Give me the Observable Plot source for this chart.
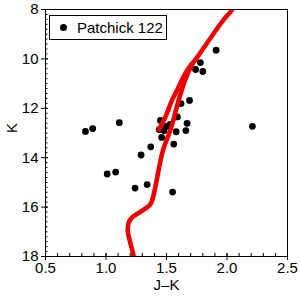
<!DOCTYPE html>
<html><head><meta charset="utf-8">
<script src="https://cdn.jsdelivr.net/npm/d3@7"></script>
<script src="https://cdn.jsdelivr.net/npm/@observablehq/plot@0.6"></script>
<style>
body{margin:0;background:#fff;}
#wrap{position:relative;width:300px;height:300px;}
#legend{position:absolute;left:49px;top:15px;width:118px;height:25px;border:1px solid #000;box-sizing:border-box;background:#fff;font:15px "Liberation Sans",Arial,sans-serif;color:#000;}
#legend .dot{position:absolute;left:10px;top:8px;width:7px;height:7px;border-radius:50%;background:#000;}
#legend .lab{position:absolute;left:27px;top:3px;line-height:17px;white-space:nowrap;}
</style>
</head><body>
<div id="wrap"><div id="legend"><span class="dot"></span><span class="lab">Patchick 122</span></div></div>
<script>
// Stars (J-K colour, K magnitude)
const starJK = [0.83, 0.89, 1.11, 1.01, 1.08, 1.24, 1.34, 1.55, 1.29, 1.37, 1.46, 1.44, 1.45, 1.50, 1.53, 1.59, 1.58, 1.56, 1.67, 1.66, 1.62, 1.69, 1.74, 1.80, 1.78, 1.91, 2.21, 1.48];
const starK  = [12.94, 12.82, 12.58, 14.66, 14.58, 15.23, 15.09, 15.39, 13.89, 13.56, 13.18, 12.86, 12.49, 12.73, 12.65, 12.35, 12.95, 13.45, 12.61, 12.90, 11.81, 11.68, 10.43, 10.51, 10.15, 9.65, 12.73, 12.90];
// Isochrone main branch
const isoJK = [1.23, 1.225, 1.197, 1.180, 1.188, 1.216, 1.285, 1.368, 1.395, 1.423, 1.445, 1.47, 1.54, 1.60, 1.643, 1.70, 1.78, 1.89, 1.97, 2.03, 2.07];
const isoK  = [18.1, 17.91, 17.37, 16.96, 16.63, 16.42, 16.19, 15.88, 15.47, 14.80, 14.25, 13.71, 12.76, 11.68, 11.00, 10.33, 9.75, 8.97, 8.43, 8.09, 7.8];
// Isochrone second branch
const agbJK = [1.437, 1.49, 1.545, 1.587, 1.655, 1.71];
const agbK  = [12.86, 12.36, 11.68, 11.27, 10.6, 10.19];
// Ticks
const xTicks = [0.5, 1.0, 1.5, 2.0, 2.5];
const yTicks = [8, 10, 12, 14, 16, 18];
const xMinor = d3.range(0.5, 2.501, 0.1);
const yMinor = d3.range(8, 18.001, 0.2);

const stars = starJK.map((x, i) => ({x, y: starK[i]}));
const iso = isoJK.map((x, i) => ({x, y: isoK[i]}));
const agb = agbJK.map((x, i) => ({x, y: agbK[i]}));

const font = '"Liberation Sans", Arial, sans-serif';
const chart = Plot.plot({
  width: 300, height: 300,
  marginLeft: 45, marginRight: 13, marginTop: 9, marginBottom: 44,
  style: {fontFamily: font, fontSize: "15px", color: "#000", background: "#fff"},
  x: {domain: [0.5, 2.5]},
  y: {domain: [18, 8]},
  marks: [
    Plot.dot(stars, {x: "x", y: "y", r: 3.4, fill: "#000", stroke: null}),
    Plot.line(iso, {x: "x", y: "y", stroke: "#ee0000", strokeWidth: 4.6, curve: "catmull-rom", clip: true}),
    Plot.line(agb, {x: "x", y: "y", stroke: "#ee0000", strokeWidth: 4.6, curve: "catmull-rom", clip: true}),
    Plot.frame({stroke: "#000"}),
    Plot.axisX(xTicks, {anchor: "bottom", tickSize: 4, tickPadding: 2, tickFormat: d3.format(".1f"), label: null, fontSize: 15}),
    Plot.axisX(xTicks, {anchor: "bottom", tickSize: 3, dy: -3, text: null, label: null}),
    Plot.axisX(xMinor, {anchor: "bottom", tickSize: 3, dy: -3, text: null, label: null}),
    Plot.axisY(yTicks, {anchor: "left", tickSize: 4, tickPadding: 3, label: null, fontSize: 15}),
    Plot.axisY(yTicks, {anchor: "left", tickSize: 3, dx: 3, text: null, label: null}),
    Plot.axisY(yMinor, {anchor: "left", tickSize: 2.5, dx: 2.5, text: null, label: null}),
    Plot.text(["J–K"], {frameAnchor: "bottom", dy: 33, fontSize: 15, fill: "#000"}),
    Plot.text(["K"], {frameAnchor: "left", dx: -33, rotate: -90, fontSize: 15, fill: "#000"})
  ]
});
document.getElementById("wrap").prepend(chart);
</script>
</body></html>
